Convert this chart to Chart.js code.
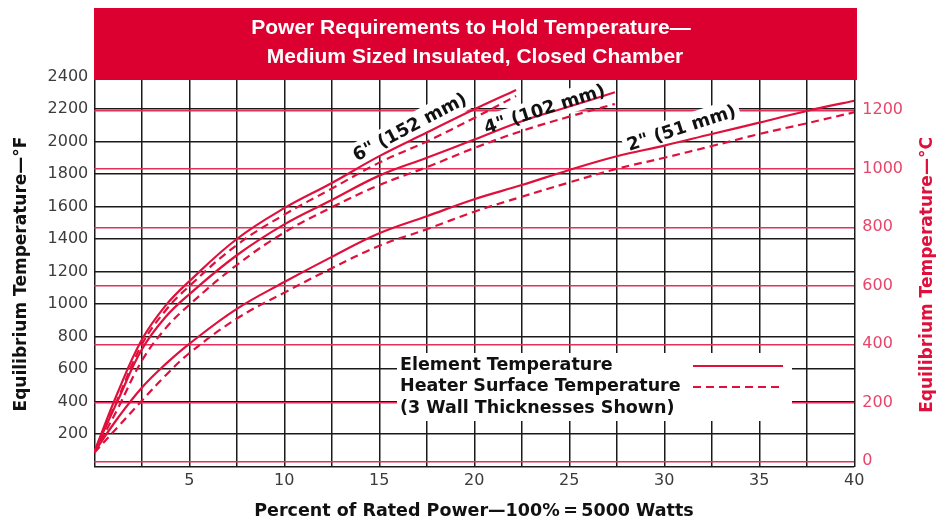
<!DOCTYPE html>
<html>
<head>
<meta charset="utf-8">
<script src="https://cdn.jsdelivr.net/npm/chart.js@4.4.1/dist/chart.umd.min.js"></script>
<style>
  html, body { margin: 0; padding: 0; background: #fff; }
</style>
</head>
<body>
<canvas id="chart" width="952" height="521"></canvas>
<script>
// percent of rated power (x) and temperature in °F (y)
const pct6 = [0, 1.25, 2.5, 3.75, 5, 7.5, 10, 12.5, 15, 17.5, 20, 22.2];
const element6 = [90, 460, 780, 990, 1140, 1400, 1590, 1745, 1910, 2055, 2198, 2317];
const surface6 = [88, 420, 750, 960, 1110, 1363, 1550, 1710, 1870, 2000, 2145, 2280];

const pct4 = [0, 1.25, 2.5, 3.75, 5, 7.5, 10, 12.5, 15, 17.5, 20, 22.5, 25, 27.4];
const element4 = [90, 410, 720, 920, 1060, 1300, 1490, 1640, 1790, 1900, 2012, 2125, 2215, 2303];
const surface4 = [85, 360, 650, 850, 995, 1240, 1440, 1595, 1732, 1842, 1960, 2065, 2153, 2231];

const pct2 = [0, 1.25, 2.5, 3.75, 5, 7.5, 10, 12.5, 15, 17.5, 20, 22.5, 25, 27.5, 30, 32.5, 35, 37.5, 40];
const element2 = [90, 300, 485, 630, 755, 970, 1135, 1290, 1435, 1540, 1645, 1732, 1825, 1909, 1975, 2046, 2116, 2188, 2251];
const surface2 = [85, 245, 405, 560, 697, 910, 1070, 1220, 1358, 1460, 1568, 1660, 1748, 1832, 1900, 1972, 2046, 2112, 2180];

const celsiusTicks = [0, 200, 400, 600, 800, 1000, 1200];

const titleLines = ["Power Requirements to Hold Temperature\u2014", "Medium Sized Insulated, Closed Chamber"];
const legendLines = ["Element Temperature", "Heater Surface Temperature", "(3 Wall Thicknesses Shown)"];
const wallLabels = ['6" (152 mm)', '4" (102 mm)', '2" (51 mm)'];
const wallLabelPct = [16.6, 23.7, 30.9];
const wallLabelTemp = [2089, 2200, 2083];
const wallLabelAngle = [-27.8, -17.8, -18];

const RED = "#e0103c";
const toC = f => (f - 32) * 5 / 9;

function pts(xs, ys) {
  return xs.map((v, i) => ({ x: v, y: ys[i] }));
}

function serie(label, xs, ys, dashed) {
  return {
    label: label,
    data: pts(xs, ys),
    borderColor: RED,
    borderWidth: 2.2,
    borderDash: dashed ? [8, 5] : [],
    pointRadius: 0,
    fill: false,
    tension: 0.4
  };
}

const boldFont = '"DejaVu Sans", sans-serif';

const overlay = {
  id: "overlay",
  beforeDatasetsDraw(chart) {
    const { ctx, scales: { x, y } } = chart;
    ctx.save();
    ctx.fillStyle = "#fff";
    ctx.fillRect(397, 353, 395, 68);
    ctx.font = "bold 18px " + boldFont;
    wallLabels.forEach((t, i) => {
      const w = ctx.measureText(t).width;
      ctx.save();
      ctx.translate(x.getPixelForValue(wallLabelPct[i]), y.getPixelForValue(wallLabelTemp[i]));
      ctx.rotate(wallLabelAngle[i] * Math.PI / 180);
      ctx.fillRect(-w / 2 - 4, -12, w + 8, 24);
      ctx.restore();
    });
    ctx.restore();
  },
  afterDraw(chart) {
    const { ctx, scales: { x, y } } = chart;
    ctx.save();

    // title band
    ctx.fillStyle = "#dc0030";
    ctx.fillRect(94, 8, 763, 72);
    ctx.fillStyle = "#fff";
    ctx.font = 'bold 21px "Liberation Sans", Arial, sans-serif';
    ctx.textAlign = "center";
    ctx.textBaseline = "middle";
    ctx.fillText(titleLines[0], 471, 28);
    ctx.fillText(titleLines[1], 475, 57);

    // wall thickness labels
    ctx.fillStyle = "#111";
    ctx.font = "bold 18px " + boldFont;
    wallLabels.forEach((t, i) => {
      ctx.save();
      ctx.translate(x.getPixelForValue(wallLabelPct[i]), y.getPixelForValue(wallLabelTemp[i]));
      ctx.rotate(wallLabelAngle[i] * Math.PI / 180);
      ctx.fillText(t, 0, 1);
      ctx.restore();
    });

    // legend
    ctx.textAlign = "left";
    ctx.font = "bold 17.5px " + boldFont;
    ctx.fillText(legendLines[0], 400, 365);
    ctx.fillText(legendLines[1], 400, 386);
    ctx.fillText(legendLines[2], 400, 408);
    ctx.strokeStyle = RED;
    ctx.lineWidth = 2.2;
    ctx.beginPath();
    ctx.moveTo(693, 366);
    ctx.lineTo(783, 366);
    ctx.stroke();
    ctx.setLineDash([8, 5]);
    ctx.beginPath();
    ctx.moveTo(693, 387);
    ctx.lineTo(783, 387);
    ctx.stroke();
    ctx.setLineDash([]);

    // axis titles
    ctx.textAlign = "center";
    ctx.font = "bold 17.5px " + boldFont;
    ctx.fillText("Percent of Rated Power\u2014100%\u2009=\u20095000 Watts", 474, 511);
    ctx.font = "bold 17px " + boldFont;
    ctx.save();
    ctx.translate(22, 274);
    ctx.rotate(-Math.PI / 2);
    ctx.fillText("Equilibrium Temperature\u2014\u00b0F", 0, 0);
    ctx.restore();
    ctx.save();
    ctx.fillStyle = RED;
    ctx.translate(928, 275);
    ctx.rotate(-Math.PI / 2);
    ctx.fillText("Equilibrium Temperature\u2014\u00b0C", 0, 0);
    ctx.restore();

    ctx.restore();
  }
};

new Chart(document.getElementById("chart").getContext("2d"), {
  type: "line",
  data: {
    datasets: [
      serie("6 in element", pct6, element6, false),
      serie("6 in surface", pct6, surface6, true),
      serie("4 in element", pct4, element4, false),
      serie("4 in surface", pct4, surface4, true),
      serie("2 in element", pct2, element2, false),
      serie("2 in surface", pct2, surface2, true)
    ]
  },
  options: {
    responsive: false,
    animation: false,
    layout: { padding: { top: 76.5, left: 0, right: 0, bottom: 0 } },
    plugins: { legend: { display: false }, tooltip: { enabled: false } },
    scales: {
      x: {
        type: "linear",
        min: 0,
        max: 40,
        afterFit: s => { s.height = 54.5; },
        ticks: {
          stepSize: 2.5,
          autoSkip: false,
          maxRotation: 0,
          padding: 5,
          color: "#3c3c3c",
          font: { family: "DejaVu Sans", size: 16 },
          callback: v => (v > 0 && v % 5 === 0 ? String(v) : "")
        },
        grid: { color: "#1a1a1a", lineWidth: 1.5, drawTicks: false },
        border: { display: false }
      },
      y: {
        position: "left",
        min: 0,
        max: 2400,
        afterFit: s => { s.width = 94.3; },
        ticks: {
          stepSize: 200,
          padding: 6,
          color: "#3c3c3c",
          font: { family: "DejaVu Sans", size: 16 },
          callback: v => (v > 0 ? String(v) : "")
        },
        grid: { color: "#1a1a1a", lineWidth: 1.5, drawTicks: false },
        border: { display: false }
      },
      y2: {
        position: "right",
        min: toC(0),
        max: toC(2400),
        afterFit: s => { s.width = 97.7; },
        afterBuildTicks: s => { s.ticks = celsiusTicks.map(v => ({ value: v })); },
        ticks: {
          padding: 8,
          color: "#e8456a",
          font: { family: "DejaVu Sans", size: 16 },
          callback: v => String(v)
        },
        grid: { color: "#e4305a", lineWidth: 1.5, drawTicks: false },
        border: { display: false }
      }
    }
  },
  plugins: [overlay]
});
</script>
</body>
</html>
